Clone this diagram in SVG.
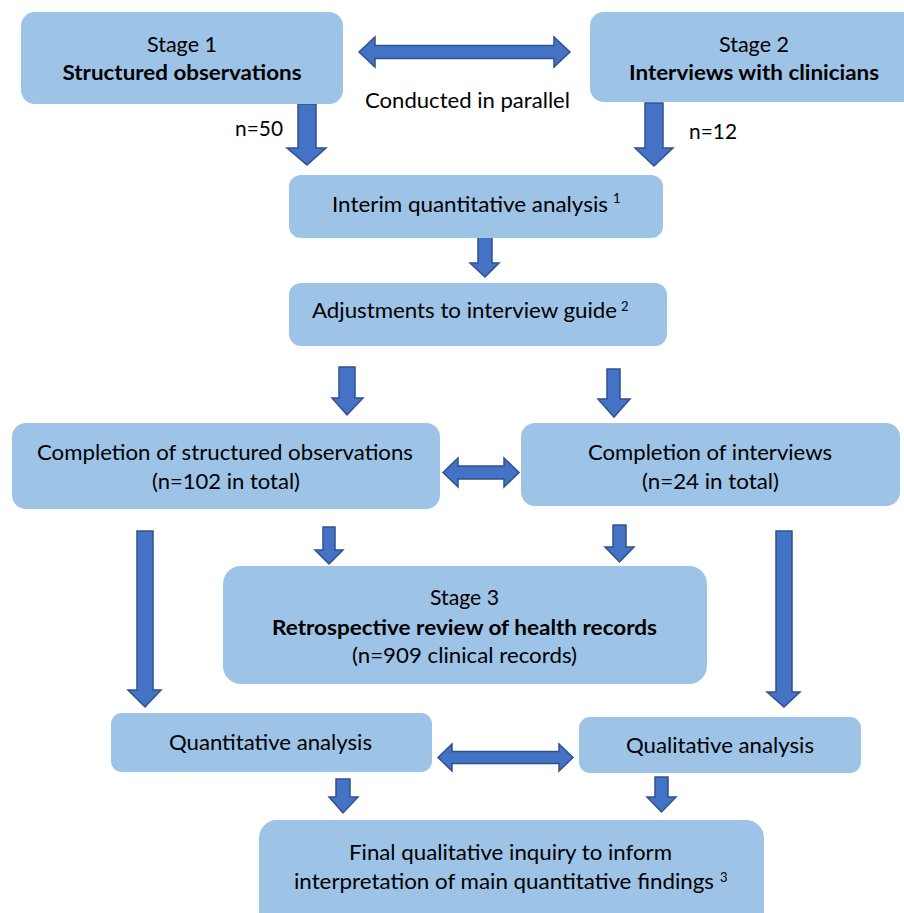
<svg xmlns="http://www.w3.org/2000/svg" width="904" height="913" viewBox="0 0 904 913">
<style>
.box{fill:#9DC3E6;}
.arr{fill:#4472C4;stroke:#2F528F;stroke-width:1.5;stroke-linejoin:miter;}
text{font-family:Lato,"Open Sans","Liberation Sans",sans-serif;font-size:21px;fill:#000;}
.b{font-weight:bold;}
.m{text-anchor:middle;}
.sup{font-size:13px;}
</style>
<rect width="904" height="913" fill="#fff"/>
<g id="connectors">
<polygon class="arr" points="359,52 375,37 375,45.5 554,45.5 554,37 570,52 554,67 554,58.5 375,58.5 375,67"/>
<polygon class="arr" points="298,104 316,104 316,148 326,148 307,165 287,148 298,148"/>
<polygon class="arr" points="645,103 663,103 663,148 673,148 654,166 635,148 645,148"/>
<polygon class="arr" points="478,236 492,236 492,263 499,263 485,277 470,263 478,263"/>
<polygon class="arr" points="339,367 355,367 355,398 363,398 347,415 332,398 339,398"/>
<polygon class="arr" points="607,369 620,369 620,399 630,399 614,417 598,399 607,399"/>
<polygon class="arr" points="443,472.5 458,458 458,466 504,466 504,458 519,472.5 504,487 504,479 458,479 458,487"/>
<polygon class="arr" points="137,531 153,531 153,690 161,690 145,707 128,690 137,690"/>
<polygon class="arr" points="323,527 335,527 335,550 343,550 329,564 315,550 323,550"/>
<polygon class="arr" points="613,525 626,525 626,547 634,547 619.5,562 605,547 613,547"/>
<polygon class="arr" points="776,531 792,531 792,692 800,692 784,707 767,692 776,692"/>
<polygon class="arr" points="438,757.5 452,744 452,751.5 559,751.5 559,744 573,757.5 559,771 559,763.5 452,763.5 452,771"/>
<polygon class="arr" points="336,779 350,779 350,797 358,797 343,813 329,797 336,797"/>
<polygon class="arr" points="655,777 668,777 668,797 676,797 661.5,812 647,797 655,797"/>
</g>
<g id="stage1">
<rect class="box" x="21" y="12" width="322" height="92" rx="14"/>
<text class="m" x="182" y="52" textLength="70" lengthAdjust="spacingAndGlyphs">Stage 1</text>
<text class="m b" x="182" y="80" textLength="239" lengthAdjust="spacingAndGlyphs">Structured observations</text>
</g>
<g id="stage2">
<rect class="box" x="590" y="12" width="330" height="90" rx="14"/>
<text class="m" x="754" y="52" textLength="70" lengthAdjust="spacingAndGlyphs">Stage 2</text>
<text class="m b" x="754" y="80" textLength="250" lengthAdjust="spacingAndGlyphs">Interviews with clinicians</text>
</g>
<g id="labels">
<text class="m" x="467.5" y="108" textLength="205" lengthAdjust="spacingAndGlyphs">Conducted in parallel</text>
<text x="235" y="136" textLength="48" lengthAdjust="spacingAndGlyphs">n=50</text>
<text x="689" y="139" textLength="48" lengthAdjust="spacingAndGlyphs">n=12</text>
</g>
<g id="interim">
<rect class="box" x="289" y="175" width="374" height="63" rx="12"/>
<text x="332" y="212" textLength="276" lengthAdjust="spacingAndGlyphs">Interim quantitative analysis</text>
<text class="sup" x="613" y="203">1</text>
</g>
<g id="adjust">
<rect class="box" x="289" y="283" width="378" height="63" rx="12"/>
<text x="312" y="318" textLength="305" lengthAdjust="spacingAndGlyphs">Adjustments to interview guide</text>
<text class="sup" x="621" y="311">2</text>
</g>
<g id="compObs">
<rect class="box" x="12" y="423" width="428" height="86" rx="14"/>
<text x="37" y="460" textLength="376" lengthAdjust="spacingAndGlyphs">Completion of structured observations</text>
<text x="152" y="489" textLength="148" lengthAdjust="spacingAndGlyphs">(n=102 in total)</text>
</g>
<g id="compInt">
<rect class="box" x="521" y="423" width="379" height="83" rx="14"/>
<text x="588" y="460" textLength="244" lengthAdjust="spacingAndGlyphs">Completion of interviews</text>
<text x="642" y="489" textLength="137" lengthAdjust="spacingAndGlyphs">(n=24 in total)</text>
</g>
<g id="stage3">
<rect class="box" x="223" y="566" width="484" height="118" rx="18"/>
<text x="430" y="605" textLength="69" lengthAdjust="spacingAndGlyphs">Stage 3</text>
<text class="b" x="272" y="635" textLength="385" lengthAdjust="spacingAndGlyphs">Retrospective review of health records</text>
<text x="352" y="663" textLength="225" lengthAdjust="spacingAndGlyphs">(n=909 clinical records)</text>
</g>
<g id="quant">
<rect class="box" x="111" y="713" width="321" height="59" rx="11"/>
<text x="169" y="750" textLength="203" lengthAdjust="spacingAndGlyphs">Quantitative analysis</text>
</g>
<g id="qual">
<rect class="box" x="579" y="717" width="282" height="56" rx="11"/>
<text x="626" y="753" textLength="188" lengthAdjust="spacingAndGlyphs">Qualitative analysis</text>
</g>
<g id="final">
<rect class="box" x="259" y="820" width="505" height="110" rx="18"/>
<text x="349" y="860" textLength="323" lengthAdjust="spacingAndGlyphs">Final qualitative inquiry to inform</text>
<text x="294" y="889" textLength="420" lengthAdjust="spacingAndGlyphs">interpretation of main quantitative findings</text>
<text class="sup" x="720" y="882">3</text>
</g>
</svg>
